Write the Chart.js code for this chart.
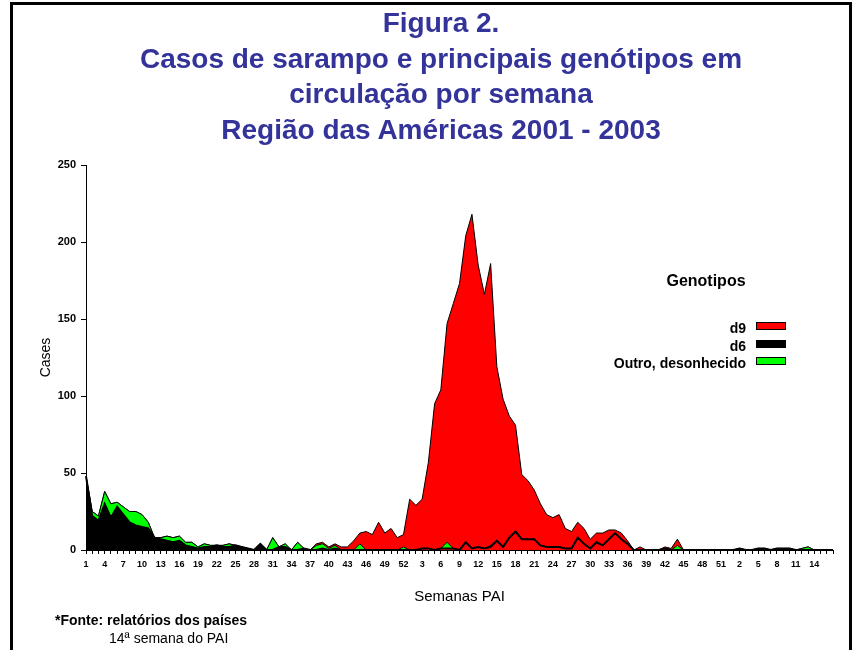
<!DOCTYPE html>
<html>
<head>
<meta charset="utf-8">
<script src="https://cdn.jsdelivr.net/npm/chart.js@4.4.1/dist/chart.umd.min.js"></script>
<style>
html,body{margin:0;padding:0;background:#fff;width:862px;height:650px;overflow:hidden;font-family:"Liberation Sans",Arial,sans-serif;}
#c{position:absolute;left:0;top:0;}
#frame{position:absolute;left:10px;top:2px;width:836px;height:700px;border:3px solid #000;border-bottom:none;pointer-events:none;}
#title{position:absolute;left:20px;top:5px;width:842px;text-align:center;color:#333399;font-weight:bold;font-size:28px;line-height:35.5px;}
#legTitle{position:absolute;left:606px;top:271px;width:200px;text-align:center;font-weight:bold;font-size:16px;line-height:20px;color:#000;}
#legend{position:absolute;left:556px;top:320px;}
.row{display:flex;height:17.5px;}
.row span{width:190px;text-align:right;font-weight:bold;font-size:14px;line-height:17px;color:#000;}
.row i{display:block;margin-left:10px;margin-top:2px;width:28px;height:6px;border:1px solid #000;}
#fonte{position:absolute;left:55px;top:612px;font-weight:bold;font-size:14px;line-height:17px;color:#000;}
#sem{position:absolute;left:109px;top:630px;font-size:14px;line-height:17px;color:#000;}
</style>
</head>
<body>
<canvas id="c" width="862" height="650"></canvas>
<div id="title">Figura 2.<br>Casos de sarampo e principais genótipos em<br>circulação por semana<br>Região das Américas 2001 - 2003</div>
<div id="legTitle">Genotipos</div>
<div id="legend"></div>
<div id="fonte">*Fonte: relatórios dos países</div>
<div id="sem">14ª semana do PAI</div>
<div id="frame"></div>
<script>
// Categories: epidemiological weeks (2001: 1-52, 2002: 1-52, 2003: 1-17)
const weeks2001 = [];
for (let w = 1; w <= 52; w++) weeks2001.push(String(w));
const weeks2002 = [];
for (let w = 1; w <= 52; w++) weeks2002.push(String(w));
const weeks2003 = [];
for (let w = 1; w <= 17; w++) weeks2003.push(String(w));
const categories = weeks2001.concat(weeks2002, weeks2003);

// Genotype d6 (cases per week)
const d6_2001 = [48,22,19,30,21,28,23,18,16,15,14,8,7,6,5,6,3,2,1,2,2,3,2,2,3,2,1,0,4,0,0,2,2,0,0,1,0,0,1,0,1,0,0,0,0,0,0,0,0,0,0,0];
const d6_2002 = [0,0,1,1,0,1,1,1,0,5,1,2,1,2,6,2,8,12,7,7,7,3,2,2,2,1,1,8,4,1,5,3,7,11,7,4,0,0,0,0,0,1,0,0,0,0,0,0,0,0,0,0];
const d6_2003 = [0,1,0,0,1,1,0,1,1,1,0,0,0,0,0,0,0];

// Other / unknown genotype
const outro_2001 = [0,3,3,8,9,3,5,7,9,8,4,0,1,3,3,3,2,3,1,2,1,0,1,2,0,0,0,0,0,0,8,0,2,0,5,0,0,3,3,1,2,0,0,0,4,0,0,0,0,0,0,2];
const outro_2002 = [0,0,0,0,0,0,4,0,0,0,0,0,0,1,0,0,0,0,0,0,0,0,0,0,0,0,0,0,0,0,0,0,0,0,0,0,0,0,0,0,0,0,0,3,0,0,0,0,0,0,0,0];
const outro_2003 = [0,0,0,0,0,0,0,0,0,0,0,1,2,0,0,0,0];

// Genotype d9
const d9_2001 = [0,0,0,0,0,0,0,0,0,0,0,0,0,0,0,0,0,0,0,0,0,0,0,0,0,0,0,0,0,0,0,0,0,0,0,0,0,1,1,1,1,2,2,6,7,12,10,18,11,14,8,8];
const d9_2002 = [33,29,32,56,95,103,142,159,173,199,217,183,165,183,113,96,79,69,42,38,32,27,21,19,21,13,11,10,10,6,6,8,6,2,4,2,0,2,0,0,0,1,1,4,0,0,0,0,0,0,0,0];
const d9_2003 = [0,0,0,0,0,0,0,0,0,0,0,0,0,0,0,0,0];

const yTicks = [0,50,100,150,200,250];

const d6 = d6_2001.concat(d6_2002, d6_2003);
const outro = outro_2001.concat(outro_2002, outro_2003);
const d9 = d9_2001.concat(d9_2002, d9_2003);

const start2002 = weeks2001.length;
const end2002 = weeks2001.length + weeks2002.length - 1;

Chart.defaults.font.family = "'Liberation Sans', Arial, sans-serif";
Chart.defaults.color = '#000';

const datasets = [
  { label:'d6', data:d6, backgroundColor:'#000000', borderColor:'#000000', borderWidth:2, fill:'origin',
    pointRadius:0, tension:0,
    segment:{ backgroundColor: ctx => (ctx.p0DataIndex >= start2002 && ctx.p1DataIndex <= end2002) ? '#FF0000' : undefined } },
  { label:'Outro, desonhecido', data:outro, backgroundColor:'#00FF00', borderColor:'#000000', borderWidth:1, fill:'-1', pointRadius:0, tension:0 },
  { label:'d9', data:d9, backgroundColor:'#FF0000', borderColor:'#000000', borderWidth:1, fill:'-1', pointRadius:0, tension:0 }
];

new Chart(document.getElementById('c'), {
  type:'line',
  data:{ labels:categories, datasets:datasets },
  options:{
    responsive:false, animation:false, devicePixelRatio:1,
    layout:{ padding:{ top:165, left:0, right:29, bottom:44 } },
    plugins:{ legend:{display:false}, tooltip:{enabled:false}, title:{display:false} },
    scales:{
      x:{
        type:'category', offset:false,
        grid:{ display:true, drawOnChartArea:false, drawTicks:true, tickLength:4, color:'#000', offset:false },
        border:{ display:true, color:'#000', width:1 },
        ticks:{ autoSkip:false, maxRotation:0, minRotation:0, padding:5, color:'#000',
          font:{ size:9, weight:'bold' },
          callback:(v,i) => (i % 3 === 0 && i < categories.length - 1) ? categories[i] : '' },
        title:{ display:true, text:'Semanas PAI', color:'#000', font:{ size:15 }, padding:{ top:0, bottom:0 } },
        afterFit: s => { s.height = 56; }
      },
      y:{
        stacked:true, min:yTicks[0], max:yTicks[yTicks.length-1],
        grid:{ display:true, drawOnChartArea:false, drawTicks:true, tickLength:5, color:'#000' },
        border:{ display:true, color:'#000', width:1 },
        ticks:{ stepSize:50, padding:5, color:'#000', font:{ size:11, weight:'bold' } },
        title:{ display:true, text:'Cases', color:'#000', font:{ size:14 }, padding:{ top:38, bottom:0 } },
        afterFit: s => { s.width = 86; }
      }
    }
  }
});

// Legend (order as in the reference)
const legend = document.getElementById('legend');
[datasets[2], datasets[0], datasets[1]].forEach(ds => {
  const row = document.createElement('div');
  row.className = 'row';
  const t = document.createElement('span');
  t.textContent = ds.label;
  const b = document.createElement('i');
  b.style.background = ds.backgroundColor;
  row.appendChild(t); row.appendChild(b);
  legend.appendChild(row);
});
</script>
</body>
</html>
